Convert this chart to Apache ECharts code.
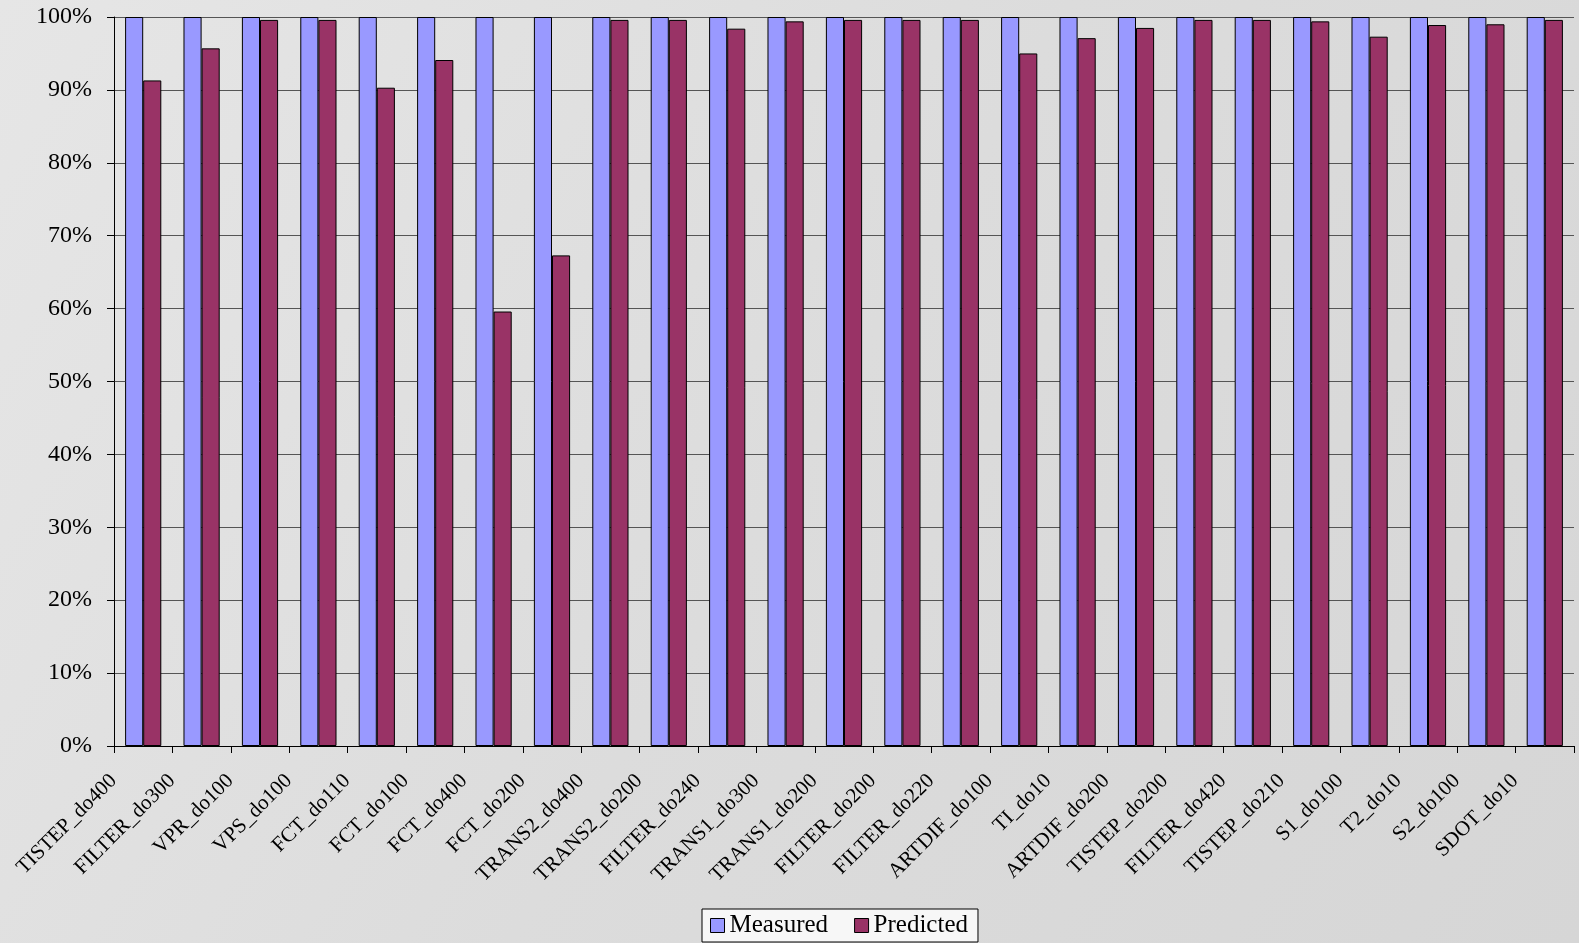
<!DOCTYPE html>
<html>
<head>
<meta charset="utf-8">
<script src="https://cdn.jsdelivr.net/npm/echarts@6/dist/echarts.min.js"></script>
<style>
  html, body { margin: 0; padding: 0; }
  #main { width: 1579px; height: 943px; }
</style>
</head>
<body>
<div id="main"></div>
<script>
  // categories and values (percent)
  const categories = ['TISTEP_do400', 'FILTER_do300', 'VPR_do100', 'VPS_do100', 'FCT_do110',
    'FCT_do100', 'FCT_do400', 'FCT_do200', 'TRANS2_do400', 'TRANS2_do200', 'FILTER_do240',
    'TRANS1_do300', 'TRANS1_do200', 'FILTER_do200', 'FILTER_do220', 'ARTDIF_do100', 'TI_do10',
    'ARTDIF_do200', 'TISTEP_do200', 'FILTER_do420', 'TISTEP_do210', 'S1_do100', 'T2_do10',
    'S2_do100', 'SDOT_do10'];
  const measured = [100, 100, 100, 100, 100, 100, 100, 100, 100, 100, 100, 100, 100,
    100, 100, 100, 100, 100, 100, 100, 100, 100, 100, 100, 100];
  const predicted = [91.3, 95.7, 99.6, 99.6, 90.3, 94.1, 59.6, 67.3, 99.6, 99.6, 98.4, 99.4, 99.6,
    99.6, 99.6, 95.0, 97.1, 98.5, 99.6, 99.6, 99.4, 97.3, 98.9, 99.0, 99.6];
  const yTicks = [0, 10, 20, 30, 40, 50, 60, 70, 80, 90, 100];

  const serif = '"Liberation Serif", "DejaVu Serif", serif';
  const chart = echarts.init(document.getElementById('main'));
  const option = {
    backgroundColor: new echarts.graphic.LinearGradient(0, 0, 1, 1, [
      { offset: 0, color: '#e6e6e6' },
      { offset: 0.5, color: '#dcdcdc' },
      { offset: 1, color: '#d6d6d6' }
    ]),
    animation: false,
    textStyle: { fontFamily: serif, color: '#000' },
    grid: { left: 114, right: 5, top: 17, bottom: 197 },
    legend: {
      left: 702,
      top: 909,
      padding: [4, 10, 4, 8],
      itemGap: 26,
      itemWidth: 14,
      itemHeight: 14,
      backgroundColor: '#f7f7f7',
      borderColor: '#000',
      borderWidth: 1,
      textStyle: { fontFamily: serif, fontSize: 25, color: '#000' },
      data: [
        { name: 'Measured', icon: 'rect', itemStyle: { borderColor: '#000', borderWidth: 1 } },
        { name: 'Predicted', icon: 'rect', itemStyle: { borderColor: '#000', borderWidth: 1 } }
      ]
    },
    xAxis: {
      type: 'category',
      data: categories,
      axisLine: { lineStyle: { color: '#000', width: 1 } },
      axisTick: { show: true, length: 7, lineStyle: { color: '#000' } },
      axisLabel: {
        interval: 0,
        rotate: 45,
        margin: 2,
        padding: [0, 42, 0, 0],
        fontFamily: serif,
        fontSize: 21,
        color: '#000'
      }
    },
    yAxis: {
      type: 'value',
      min: yTicks[0],
      max: yTicks[yTicks.length - 1],
      interval: 10,
      axisLine: { show: true, lineStyle: { color: '#000', width: 1 } },
      axisTick: { show: true, length: 7, lineStyle: { color: '#000' } },
      splitLine: { show: true, lineStyle: { color: '#555', width: 1 } },
      axisLabel: {
        margin: 22,
        fontFamily: serif,
        fontSize: 24,
        color: '#000',
        formatter: '{value}%'
      }
    },
    series: [
      {
        name: 'Measured',
        type: 'bar',
        data: measured,
        barGap: '0%',
        barCategoryGap: '38%',
        itemStyle: { color: '#9999FF', borderColor: '#000', borderWidth: 1 }
      },
      {
        name: 'Predicted',
        type: 'bar',
        data: predicted,
        itemStyle: { color: '#993366', borderColor: '#000', borderWidth: 1 }
      }
    ]
  };
  chart.setOption(option);
</script>
</body>
</html>
